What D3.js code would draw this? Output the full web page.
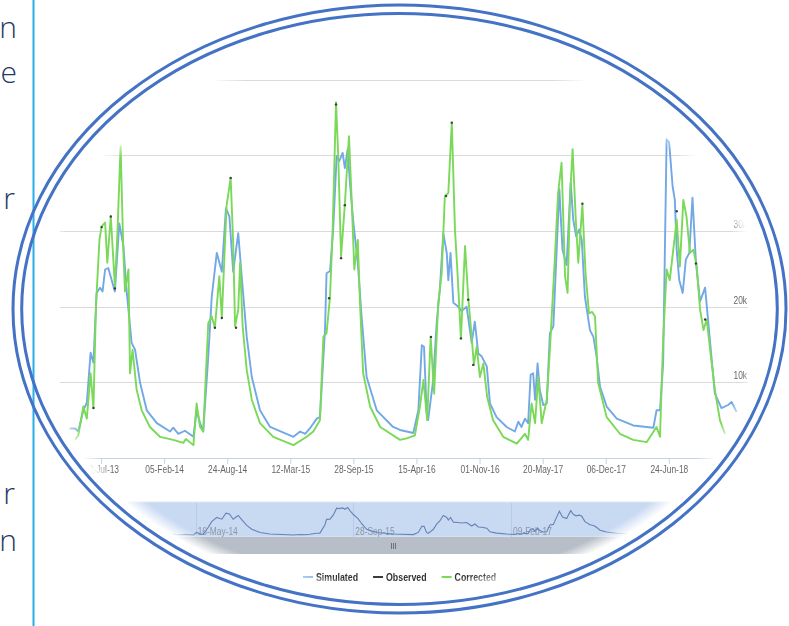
<!DOCTYPE html>
<html>
<head>
<meta charset="utf-8">
<script src="https://cdn.jsdelivr.net/npm/d3@7"></script>
<style>
  body { margin: 0; background: #fff; }
  svg { display: block; }
</style>
</head>
<body>
<div id="slide"></div>
<script>
// Simulated / observed / corrected flow, screenshot cropped to an oval on a slide.
// Series are [days after START, value in thousands].
const START = "2013-07-20";

const simulated = [
  [-100,3.9],[-82,3.9],[-72,3.5],[-56,6.3],[-45,7.3],[-33,13.9],[-24,12.6],[-14,21.8],[-3,22.5],[5,22.0],
  [13,24.9],[23,25.1],[44,22.0],[58,31.0],[71,28.0],[81,22.2],[97,15.2],[108,14.3],[124,9.9],[145,6.3],
  [177,4.6],[219,3.5],[229,4.0],[245,3.2],[266,3.6],[293,2.8],[303,6.3],[314,4.6],[324,3.5],[340,13.4],
  [351,21.3],[367,27.1],[383,24.6],[396,33.0],[407,31.9],[419,24.6],[435,29.7],[446,24.0],[462,16.0],[478,10.7],
  [504,6.3],[536,4.1],[610,2.8],[631,3.5],[647,3.2],[662,3.9],[684,5.2],[694,5.4],[710,16.9],[715,24.4],
  [726,24.7],[736,30.2],[747,39.9],[755,39.2],[766,40.3],[773,38.3],[782,40.8],[789,36.4],[800,31.1],[814,25.8],
  [826,18.7],[842,10.7],[874,6.3],[926,4.1],[948,3.7],[990,3.3],[1006,6.3],[1017,14.9],[1024,14.7],[1032,6.3],
  [1037,5.0],[1053,10.3],[1064,17.8],[1074,22.2],[1085,29.7],[1096,27.1],[1101,23.5],[1108,27.1],[1117,20.5],[1132,20.0],
  [1143,19.4],[1159,20.0],[1175,15.2],[1185,18.0],[1196,13.8],[1207,13.4],[1223,12.1],[1233,7.2],[1254,5.4],[1286,4.1],
  [1312,3.5],[1323,4.8],[1333,4.1],[1344,5.2],[1354,4.6],[1362,11.0],[1370,11.2],[1376,7.7],[1384,12.5],[1391,9.0],
  [1402,7.0],[1413,7.2],[1423,16.5],[1434,17.4],[1444,27.1],[1453,35.5],[1463,27.5],[1476,25.5],[1489,36.4],[1497,31.5],
  [1506,29.3],[1516,30.2],[1524,28.8],[1534,21.3],[1550,16.9],[1561,16.0],[1571,13.4],[1582,9.4],[1603,6.8],[1635,5.2],
  [1687,4.3],[1751,4.0],[1761,6.3],[1772,6.3],[1782,12.5],[1793,42.1],[1801,41.7],[1812,35.9],[1819,34.1],[1825,27.5],
  [1833,23.5],[1844,21.8],[1854,26.2],[1865,27.1],[1875,34.4],[1886,25.8],[1899,20.7],[1915,22.5],[1931,15.2],[1946,8.5],
  [1967,6.6],[1988,7.0],[1999,7.4],[2015,6.1]
];

const corrected = [
  [-82,2.4],[-72,3.0],[-56,6.8],[-45,5.2],[-33,11.2],[-24,6.6],[-16,20.0],[-5,28.8],[2,30.6],[13,31.1],
  [20,25.8],[31,31.9],[44,22.7],[52,29.7],[62,41.2],[71,27.1],[76,22.0],[87,24.9],[92,11.2],[100,14.3],
  [113,9.0],[129,6.3],[155,4.1],[187,2.8],[229,2.4],[261,2.0],[269,2.5],[293,1.7],[303,7.2],[314,4.1],
  [324,3.5],[340,17.8],[351,18.7],[361,17.2],[375,24.0],[383,18.5],[398,33.3],[411,37.0],[419,28.4],[425,17.4],
  [435,19.6],[441,25.8],[449,17.4],[462,11.6],[478,7.7],[504,4.6],[546,2.8],[610,1.7],[652,2.8],[673,3.5],
  [694,5.0],[705,16.0],[715,16.5],[726,21.3],[734,29.7],[745,47.0],[752,39.9],[761,26.6],[773,33.5],[786,42.5],
  [795,33.7],[803,24.9],[814,28.8],[821,20.5],[831,11.2],[853,6.8],[885,4.1],[948,2.4],[969,2.6],[995,3.0],
  [1011,6.8],[1022,10.3],[1034,5.0],[1045,16.0],[1056,8.5],[1069,20.5],[1080,24.4],[1090,34.6],[1101,35.0],[1112,44.3],
  [1122,30.2],[1129,25.3],[1141,15.8],[1154,28.0],[1164,21.3],[1175,16.0],[1182,12.3],[1191,14.7],[1201,10.7],[1212,12.5],
  [1224,8.1],[1243,5.0],[1275,2.8],[1318,1.9],[1344,3.2],[1354,2.4],[1365,7.2],[1376,4.6],[1386,10.7],[1397,4.6],
  [1413,7.7],[1423,14.3],[1439,26.6],[1449,35.0],[1460,39.0],[1471,24.0],[1479,21.8],[1487,34.6],[1495,40.8],[1505,31.5],
  [1513,25.8],[1526,33.5],[1536,24.4],[1547,19.1],[1557,19.3],[1566,18.7],[1576,9.9],[1603,5.4],[1645,3.2],[1687,2.4],
  [1730,2.1],[1761,4.1],[1772,2.8],[1782,15.6],[1793,24.9],[1803,23.5],[1814,27.5],[1825,31.5],[1835,25.3],[1846,34.1],
  [1856,31.9],[1867,27.1],[1878,27.5],[1888,25.5],[1899,19.6],[1910,16.9],[1920,18.3],[1931,14.3],[1946,9.0],[1962,5.0],
  [1978,3.2]
];

// observed only shows as scattered short dark marks over the corrected line
const observed = [
  [-24,6.6],[2,30.5],[31,31.9],[44,22.4],[361,17.2],[383,18.5],[411,37.0],[428,17.2],[723,21.1],[745,46.7],
  [761,26.4],[773,33.4],[1046,16.0],[1094,34.6],[1112,44.3],[1141,15.8],[1164,20.9],[1180,12.3],[1526,33.6],[1825,32.6],
  [1886,25.7],[1915,18.3]
];

const mainTicks = ["2013-07-20","2014-02-05","2014-08-24","2015-03-12","2015-09-28",
                   "2016-04-15","2016-11-01","2017-05-20","2017-12-06","2018-06-24"];
const navTicks = ["2014-05-16","2015-09-28","2017-02-09","2018-06-24"];
const yTicks = [10, 20, 30, 40, 50];

const seriesNames = ["Simulated", "Observed", "Corrected"];
const seriesColors = ["#72a8e6", "#3a3a40", "#7ad958"];

const slideLetters = ["n", "e", "r", "r", "n"];

const W = 789, H = 626;
const SQUEEZE = 0.8;   // the pasted screenshot is squashed sideways
const chartFont = '"Liberation Sans", Arial, sans-serif';

const parse = d3.utcParse("%Y-%m-%d");
const base = parse(START);
const day = n => d3.utcDay.offset(base, n);
const fmt = d3.utcFormat("%d-%b-%y");

const svg = d3.select("#slide").append("svg")
  .attr("width", W).attr("height", H)
  .attr("viewBox", `0 0 ${W} ${H}`);

// slide remnants on the left
svg.append("line")
  .attr("x1", 33.5).attr("x2", 33.5).attr("y1", 0).attr("y2", H)
  .attr("stroke", "#27aee8").attr("stroke-width", 2);

svg.selectAll(".slide-text")
  .data(slideLetters)
  .join("text")
  .attr("class", "slide-text")
  .attr("x", d => d === "r" ? 15 : 17)
  .attr("y", (d, i) => [38, 83, 209, 504, 551][i])
  .attr("text-anchor", "end")
  .attr("font-family", '"Open Sans", "Noto Sans", sans-serif')
  .attr("font-weight", 300)
  .attr("font-size", 30)
  .attr("fill", "#1f3864")
  .text(d => d);

// soft oval crop of the picture
const defs = svg.append("defs");
const grad = defs.append("radialGradient").attr("id", "fade");
grad.append("stop").attr("offset", 0.955).attr("stop-color", "#fff");
grad.append("stop").attr("offset", 1).attr("stop-color", "#000");
defs.append("mask").attr("id", "oval")
  .attr("maskUnits", "userSpaceOnUse")
  .attr("x", 0).attr("y", 0).attr("width", W).attr("height", H)
  .append("ellipse")
  .attr("cx", 399).attr("cy", 318).attr("rx", 368).attr("ry", 276)
  .attr("fill", "url(#fade)");

const pic = svg.append("g").attr("mask", "url(#oval)");

// squashed text helper
function label(g, tx, ty, str, size, anchor, fill, weight) {
  return g.append("text")
    .attr("transform", `translate(${tx},${ty}) scale(${SQUEEZE},1)`)
    .attr("text-anchor", anchor)
    .attr("font-family", chartFont).attr("font-size", size)
    .attr("font-weight", weight || "normal")
    .attr("fill", fill)
    .text(str);
}

// main plot scales
const x = d3.scaleUtc().domain([day(-130), day(2051)]).range([60, 748]);
const y = d3.scaleLinear().domain([0, 50]).range([458, 79.5]);

pic.append("g")
  .selectAll("line")
  .data(yTicks)
  .join("line")
  .attr("x1", 60).attr("x2", 748)
  .attr("y1", d => Math.round(y(d)) + 0.5).attr("y2", d => Math.round(y(d)) + 0.5)
  .attr("stroke", "#dadada").attr("stroke-width", 1);

const yLab = pic.append("g");
yTicks.forEach(v => label(yLab, 747, y(v) - 3, v + "k", 10.5, "end", "#666"));

// x axis
const xAxis = d3.axisBottom(x)
  .tickValues(mainTicks.map(parse))
  .tickFormat(fmt)
  .tickSizeInner(6).tickSizeOuter(0).tickPadding(2);

const gx = pic.append("g").attr("transform", "translate(0,458)").call(xAxis);
gx.select(".domain").attr("stroke", "#c5d2e6");
gx.selectAll(".tick line").attr("stroke", "#c5d2e6");
gx.selectAll(".tick text")
  .attr("transform", `scale(${SQUEEZE},1)`)
  .attr("font-family", chartFont).attr("font-size", 10.5).attr("fill", "#666");

// series
const line = d3.line().x(d => x(day(d[0]))).y(d => y(d[1]));

pic.append("path").datum(simulated)
  .attr("d", line).attr("fill", "none")
  .attr("stroke", seriesColors[0]).attr("stroke-width", 1.9)
  .attr("stroke-linejoin", "round");

pic.append("path").datum(corrected)
  .attr("d", line).attr("fill", "none")
  .attr("stroke", seriesColors[2]).attr("stroke-width", 1.9)
  .attr("stroke-linejoin", "round");

pic.append("g")
  .selectAll("circle")
  .data(observed)
  .join("circle")
  .attr("cx", d => x(day(d[0]))).attr("cy", d => y(d[1]))
  .attr("r", 1.2)
  .attr("fill", seriesColors[1]);

// navigator
const navY = d3.scaleLinear().domain([0, 47]).range([537, 503]);

pic.append("rect")
  .attr("x", 60).attr("y", 502).attr("width", 688).attr("height", 35)
  .attr("fill", "#c8d9f2").attr("stroke", "#e2e6ee").attr("stroke-width", 1);

pic.append("g")
  .selectAll("line")
  .data(navTicks.map(parse))
  .join("line")
  .attr("x1", d => Math.round(x(d)) + 0.5).attr("x2", d => Math.round(x(d)) + 0.5)
  .attr("y1", 503).attr("y2", 537)
  .attr("stroke", "#b9cbe6");

const navLab = pic.append("g");
navTicks.map(parse).forEach(d => label(navLab, x(d) + 2, 535, fmt(d), 10.5, "start", "#8d96a4"));

pic.append("path").datum(simulated)
  .attr("d", d3.line().x(d => x(day(d[0]))).y(d => navY(d[1])))
  .attr("fill", "none")
  .attr("stroke", "#6583b8").attr("stroke-width", 1.1);

pic.append("rect")
  .attr("x", 60).attr("y", 537).attr("width", 688).attr("height", 17)
  .attr("fill", "#b7bec7");

pic.append("g")
  .selectAll("line")
  .data([-2, 0, 2])
  .join("line")
  .attr("x1", d => 393.5 + d).attr("x2", d => 393.5 + d)
  .attr("y1", 543).attr("y2", 549)
  .attr("stroke", "#6d7179");

// legend
const legend = pic.append("g").attr("transform", "translate(303,577)");
let lx = 0;
seriesNames.forEach((name, i) => {
  const item = legend.append("g").attr("transform", `translate(${lx},0)`);
  item.append("line")
    .attr("x1", 0).attr("x2", 10).attr("y1", 0).attr("y2", 0)
    .attr("stroke", seriesColors[i]).attr("stroke-width", 2);
  const t = label(item, 13, 4, name, 11, "start", "#333", "bold");
  lx += 13 + t.node().getComputedTextLength() * SQUEEZE + 15;
});

// double oval frame on top
svg.append("g")
  .selectAll("ellipse")
  .data([[386.5, 304], [377.8, 295.5]])
  .join("ellipse")
  .attr("cx", 399.5).attr("cy", 309)
  .attr("rx", d => d[0]).attr("ry", d => d[1])
  .attr("fill", "none")
  .attr("stroke", "#4472c4").attr("stroke-width", 3);
</script>
</body>
</html>
